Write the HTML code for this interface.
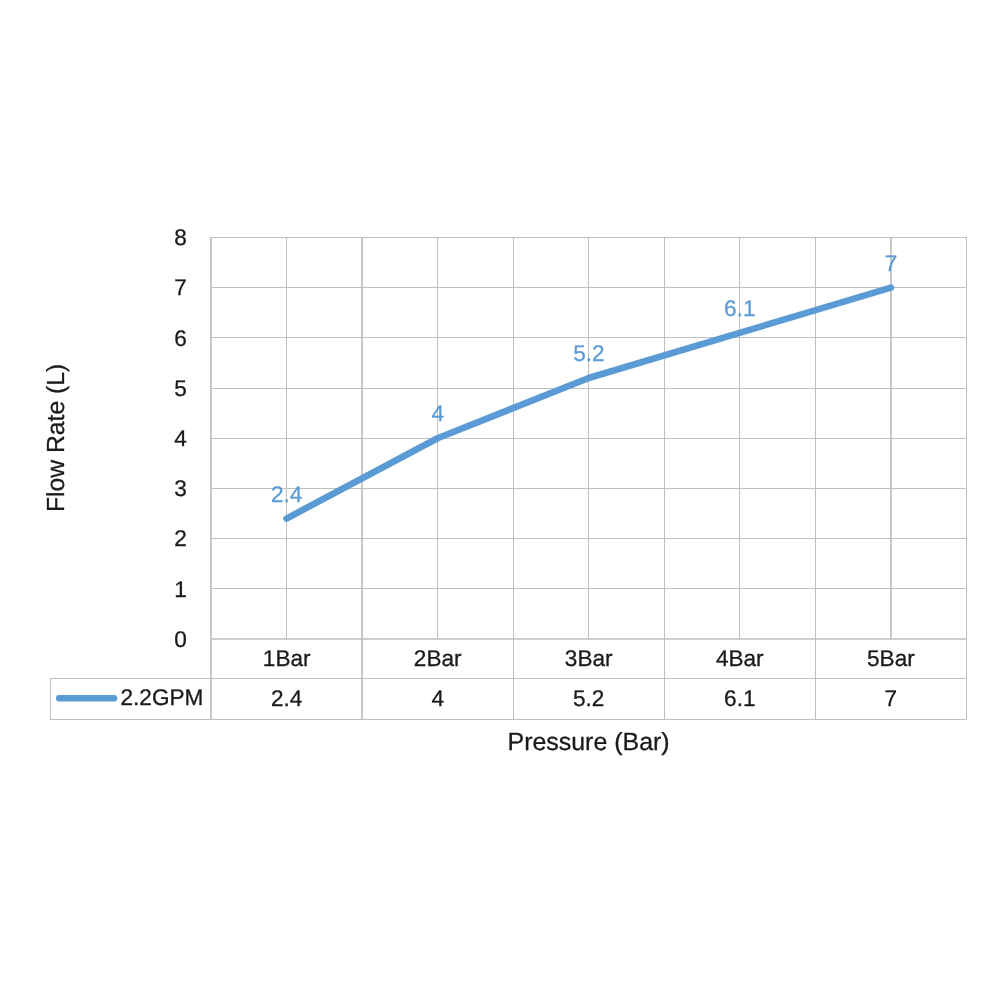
<!DOCTYPE html><html><head><meta charset="utf-8"><style>html,body{margin:0;padding:0;background:#fff;width:1000px;height:1000px;overflow:hidden}svg{display:block;will-change:transform}text{font-family:"Liberation Sans",sans-serif;text-rendering:geometricPrecision;stroke-width:0.3px;paint-order:stroke}</style></head><body>
<svg width="1000" height="1000" viewBox="0 0 1000 1000">
<rect width="1000" height="1000" fill="#fff"/>
<path d="M211 237.5H967 M211 287.5H967 M211 337.5H967 M211 388.5H967 M211 438.5H967 M211 488.5H967 M211 538.5H967 M211 588.5H967 M50 678.5H967 M50 719.5H967 M50.5 678V720 M513.5 237V720 M664.5 237V720 M815.5 237V720 M966.5 237V720 M286.5 237V639 M437.5 237V639 M588.5 237V639 M739.5 237V639" stroke="#bfbfbf" stroke-width="1" fill="none" shape-rendering="crispEdges"/>
<path d="M210.3 639H967 M211 237V720 M362 237V720 M891 237V639" stroke="#bfbfbf" stroke-width="1.7" fill="none"/>
<text transform="translate(186.80 646.70) scale(0.995 1)" text-anchor="end" font-size="22.7" fill="#1a1a1a" stroke="#1a1a1a">0</text>
<text transform="translate(186.80 596.51) scale(0.995 1)" text-anchor="end" font-size="22.7" fill="#1a1a1a" stroke="#1a1a1a">1</text>
<text transform="translate(186.80 546.33) scale(0.995 1)" text-anchor="end" font-size="22.7" fill="#1a1a1a" stroke="#1a1a1a">2</text>
<text transform="translate(186.80 496.14) scale(0.995 1)" text-anchor="end" font-size="22.7" fill="#1a1a1a" stroke="#1a1a1a">3</text>
<text transform="translate(186.80 445.95) scale(0.995 1)" text-anchor="end" font-size="22.7" fill="#1a1a1a" stroke="#1a1a1a">4</text>
<text transform="translate(186.80 395.76) scale(0.995 1)" text-anchor="end" font-size="22.7" fill="#1a1a1a" stroke="#1a1a1a">5</text>
<text transform="translate(186.80 345.57) scale(0.995 1)" text-anchor="end" font-size="22.7" fill="#1a1a1a" stroke="#1a1a1a">6</text>
<text transform="translate(186.80 295.39) scale(0.995 1)" text-anchor="end" font-size="22.7" fill="#1a1a1a" stroke="#1a1a1a">7</text>
<text transform="translate(186.80 245.20) scale(0.995 1)" text-anchor="end" font-size="22.7" fill="#1a1a1a" stroke="#1a1a1a">8</text>
<text transform="translate(286.70 666.10) scale(0.995 1)" text-anchor="middle" font-size="22.7" fill="#1a1a1a" stroke="#1a1a1a">1Bar</text>
<text transform="translate(286.70 705.50) scale(0.995 1)" text-anchor="middle" font-size="22.7" fill="#1a1a1a" stroke="#1a1a1a">2.4</text>
<text transform="translate(437.70 666.10) scale(0.995 1)" text-anchor="middle" font-size="22.7" fill="#1a1a1a" stroke="#1a1a1a">2Bar</text>
<text transform="translate(437.70 705.50) scale(0.995 1)" text-anchor="middle" font-size="22.7" fill="#1a1a1a" stroke="#1a1a1a">4</text>
<text transform="translate(588.70 666.10) scale(0.995 1)" text-anchor="middle" font-size="22.7" fill="#1a1a1a" stroke="#1a1a1a">3Bar</text>
<text transform="translate(588.70 705.50) scale(0.995 1)" text-anchor="middle" font-size="22.7" fill="#1a1a1a" stroke="#1a1a1a">5.2</text>
<text transform="translate(739.80 666.10) scale(0.995 1)" text-anchor="middle" font-size="22.7" fill="#1a1a1a" stroke="#1a1a1a">4Bar</text>
<text transform="translate(739.80 705.50) scale(0.995 1)" text-anchor="middle" font-size="22.7" fill="#1a1a1a" stroke="#1a1a1a">6.1</text>
<text transform="translate(890.90 666.10) scale(0.995 1)" text-anchor="middle" font-size="22.7" fill="#1a1a1a" stroke="#1a1a1a">5Bar</text>
<text transform="translate(890.90 705.50) scale(0.995 1)" text-anchor="middle" font-size="22.7" fill="#1a1a1a" stroke="#1a1a1a">7</text>
<path d="M286.50 518.55 L437.50 438.25 L588.70 378.02 L739.60 332.86 L890.90 287.69" stroke="#5b9bd5" stroke-width="6.6" fill="none" stroke-linecap="round" stroke-linejoin="round"/>
<text transform="translate(286.70 501.55) scale(0.995 1)" text-anchor="middle" font-size="22.7" fill="#5b9bd5" stroke="#5b9bd5">2.4</text>
<text transform="translate(437.70 421.25) scale(0.995 1)" text-anchor="middle" font-size="22.7" fill="#5b9bd5" stroke="#5b9bd5">4</text>
<text transform="translate(588.90 361.02) scale(0.995 1)" text-anchor="middle" font-size="22.7" fill="#5b9bd5" stroke="#5b9bd5">5.2</text>
<text transform="translate(739.80 315.86) scale(0.995 1)" text-anchor="middle" font-size="22.7" fill="#5b9bd5" stroke="#5b9bd5">6.1</text>
<text transform="translate(891.10 270.69) scale(0.995 1)" text-anchor="middle" font-size="22.7" fill="#5b9bd5" stroke="#5b9bd5">7</text>
<path d="M59.3 698.3H114" stroke="#5b9bd5" stroke-width="6.6" stroke-linecap="round"/>
<text transform="translate(120.50 705.10) scale(0.995 1)" text-anchor="start" font-size="22.7" fill="#1a1a1a" stroke="#1a1a1a">2.2GPM</text>
<text transform="translate(507.50 750.20) scale(1.01 1)" text-anchor="start" font-size="24.7" fill="#1a1a1a" stroke="#1a1a1a">Pressure (Bar)</text>
<text transform="translate(64.2 512) rotate(-90)" font-size="24.7" fill="#1a1a1a" stroke="#1a1a1a">Flow Rate (L)</text>
</svg></body></html>
